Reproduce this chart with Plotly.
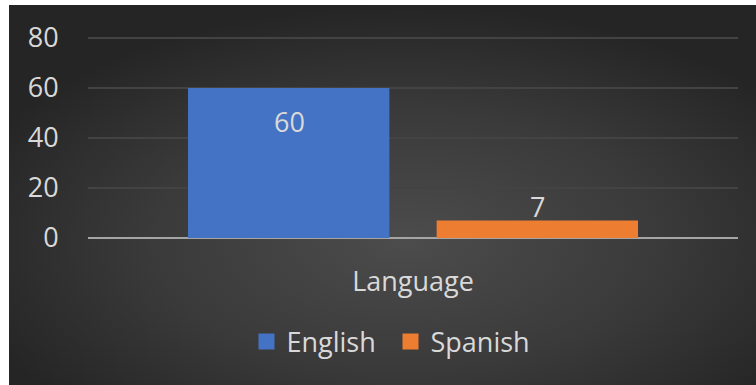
import base64
import plotly.graph_objects as go

# Chart data
categories = ["Language"]
series_names = ["English", "Spanish"]
series_values = [[60], [7]]
series_colors = ["#4472C4", "#ED7D31"]
y_tick_values = [0, 20, 40, 60, 80]

W, H = 756, 385
FONT = "Open Sans"
FONT_SIZE = 27
TEXT_COLOR = "#d9d9d9"

# Chart area (inside the thin white frame at the top/left), in pixels
area_left, area_top = 9, 5
# Plot area in pixels; a little headroom keeps the 80 gridline visible
plot_left, plot_right = 88, 738
y_max = 82
plot_bottom = 238
plot_top = plot_bottom - (plot_bottom - 38) * y_max / 80

# Horizontal distance between a category centre and each grouped bar centre
bar_offset_px = 124

# Radial-gradient backdrop for the chart area, as an inline SVG
bg_w, bg_h = W - area_left, H - area_top
svg = f"""<svg xmlns='http://www.w3.org/2000/svg' width='{bg_w}' height='{bg_h}' viewBox='0 0 {bg_w} {bg_h}' preserveAspectRatio='none'>
<defs><radialGradient id='g' cx='0.53' cy='0.62' r='0.62' gradientUnits='objectBoundingBox'>
<stop offset='0' stop-color='#4c4c4c'/><stop offset='0.55' stop-color='#3a3a3a'/><stop offset='1' stop-color='#252525'/>
</radialGradient></defs>
<rect width='{bg_w}' height='{bg_h}' fill='url(#g)'/></svg>"""
bg_src = "data:image/svg+xml;base64," + base64.b64encode(svg.encode()).decode()

fig = go.Figure()
for name, vals, color in zip(series_names, series_values, series_colors):
    fig.add_trace(go.Bar(
        name=name, x=categories, y=vals, legendgroup=name, showlegend=False,
        marker=dict(color=color, line=dict(width=0)),
    ))
    # Legend entry with a larger square swatch
    fig.add_trace(go.Scatter(
        name=name, x=[None], y=[None], mode="markers", legendgroup=name,
        marker=dict(symbol="square", size=16, color=color),
    ))

# Value labels: inside the top of the tall bar, above the short one
label_shifts = [-33, 14]
annotations = []
for i, (vals, dy) in enumerate(zip(series_values, label_shifts)):
    for cat, v in zip(categories, vals):
        annotations.append(dict(
            x=cat, y=v, xref="x", yref="y", text=str(v), showarrow=False,
            xshift=(-1 if i == 0 else 1) * bar_offset_px, yshift=dy,
            font=dict(family=FONT, size=FONT_SIZE, color=TEXT_COLOR),
        ))

fig.update_layout(
    width=W, height=H,
    margin=dict(l=0, r=0, t=0, b=0),
    paper_bgcolor="white",
    plot_bgcolor="rgba(0,0,0,0)",
    barmode="group", bargap=0.235, bargroupgap=0.19,
    font=dict(family=FONT, size=FONT_SIZE, color=TEXT_COLOR),
    annotations=annotations,
    images=[dict(
        source=bg_src, xref="paper", yref="paper",
        x=area_left / W, y=1 - area_top / H,
        sizex=1 - area_left / W, sizey=1 - area_top / H,
        xanchor="left", yanchor="top", sizing="stretch", layer="below",
    )],
    xaxis=dict(
        domain=[plot_left / W, plot_right / W],
        showgrid=False, showline=False, zeroline=False,
        ticks="outside", ticklen=20, tickcolor="rgba(0,0,0,0)",
        tickfont=dict(family=FONT, size=FONT_SIZE, color=TEXT_COLOR),
        automargin=False, fixedrange=True,
    ),
    yaxis=dict(
        domain=[1 - plot_bottom / H, 1 - plot_top / H],
        range=[0, y_max], tickvals=y_tick_values,
        showgrid=True, gridcolor="#434343", gridwidth=2,
        zeroline=True, zerolinecolor="#a5a5a5", zerolinewidth=2,
        showline=False,
        ticks="outside", ticklen=23, tickcolor="rgba(0,0,0,0)",
        tickfont=dict(family=FONT, size=FONT_SIZE, color=TEXT_COLOR),
        automargin=False, fixedrange=True,
    ),
    legend=dict(
        orientation="h", x=390.5 / W, xanchor="center",
        y=1 - 342 / H, yanchor="middle",
        font=dict(family=FONT, size=FONT_SIZE, color=TEXT_COLOR),
        bgcolor="rgba(0,0,0,0)", itemclick=False, itemdoubleclick=False,
        itemwidth=30, entrywidth=99,
    ),
    showlegend=True,
)

fig.write_html("out.html", config={"displayModeBar": False})
